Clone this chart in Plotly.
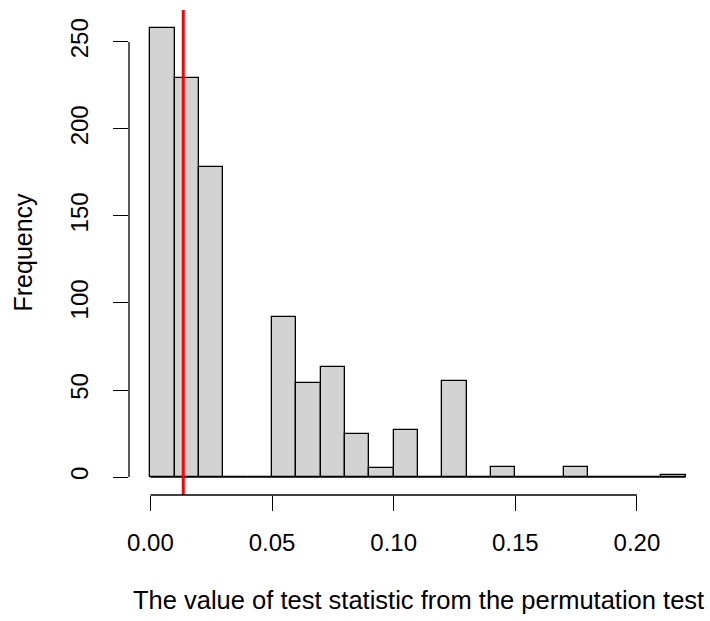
import numpy as np
import plotly.graph_objects as go

# Histogram of the permutation-test statistic (bin width 0.01)
bin_edges = [round(0.01 * i, 2) for i in range(23)]
counts = [258, 229, 178, 0, 0, 92, 54, 63, 25, 5, 27, 0, 55, 0, 6, 0, 0, 6, 0, 0, 0, 1]
observed_stat = 0.0135

x_ticks = [0.00, 0.05, 0.10, 0.15, 0.20]
x_tick_labels = ["0.00", "0.05", "0.10", "0.15", "0.20"]
y_ticks = [0, 50, 100, 150, 200, 250]
y_tick_labels = ["0", "50", "100", "150", "200", "250"]

edges = np.array(bin_edges)
centers = (edges[:-1] + edges[1:]) / 2
widths = np.diff(edges)

FONT = "Liberation Sans, Arial, Helvetica, sans-serif"
FS = 25

# R-style 4% padding around the data range
xpad = 0.04 * (edges[-1] - edges[0])
ypad = 0.04 * max(counts)
xr = [edges[0] - xpad, edges[-1] + xpad]
yr = [-ypad, max(counts) + ypad]

fig = go.Figure()
fig.add_trace(go.Bar(
    x=centers, y=counts, width=widths,
    marker=dict(color="#D3D3D3", line=dict(color="black", width=1.3)),
    hoverinfo="x+y",
))
# empty bins are drawn as a flat outline along zero
fig.add_trace(go.Scatter(
    x=[edges[0], edges[-1]], y=[0, 0], mode="lines",
    line=dict(color="black", width=1.2), hoverinfo="skip",
))

# observed value of the statistic
fig.add_shape(type="line", xref="x", yref="paper",
              x0=observed_stat, x1=observed_stat, y0=0, y1=1,
              line=dict(color="#FF0000", width=3))

# axis lines spanning only the tick range
fig.add_shape(type="line", xref="x", yref="paper",
              x0=x_ticks[0], x1=x_ticks[-1], y0=0, y1=0,
              line=dict(color="black", width=1.3))
fig.add_shape(type="line", xref="paper", yref="y",
              x0=0, x1=0, y0=y_ticks[0], y1=y_ticks[-1],
              line=dict(color="black", width=1.3))

fig.update_layout(
    width=710, height=621,
    margin=dict(l=128.6, r=3, t=9.8, b=125.7),
    paper_bgcolor="white", plot_bgcolor="white",
    showlegend=False, bargap=0,
    font=dict(family=FONT, size=FS, color="black"),
    xaxis=dict(range=xr, showgrid=False, zeroline=False, showline=False,
               tickmode="array", tickvals=x_ticks, ticktext=x_tick_labels,
               ticks="outside", ticklen=15, tickwidth=1.3, tickcolor="black",
               ticklabelstandoff=11,
               tickfont=dict(family=FONT, size=FS - 1)),
    yaxis=dict(range=yr, showgrid=False, zeroline=False, showline=False,
               tickmode="array", tickvals=y_ticks, ticktext=y_tick_labels,
               ticks="outside", ticklen=15, tickwidth=1.3, tickcolor="black",
               ticklabelstandoff=15,
               tickangle=-90, tickfont=dict(family=FONT, size=FS - 1)),
    annotations=[
        dict(text="The value of test statistic from the permutation test",
             xref="paper", yref="paper", x=0.5, y=0, yshift=-105,
             xanchor="center", yanchor="middle", showarrow=False,
             font=dict(family=FONT, size=25.5)),
        dict(text="Frequency", xref="paper", yref="paper", x=0, y=0.5,
             xshift=-107, textangle=-90, xanchor="center", yanchor="middle",
             showarrow=False, font=dict(family=FONT, size=FS)),
    ],
)

fig.write_html("out.html")
